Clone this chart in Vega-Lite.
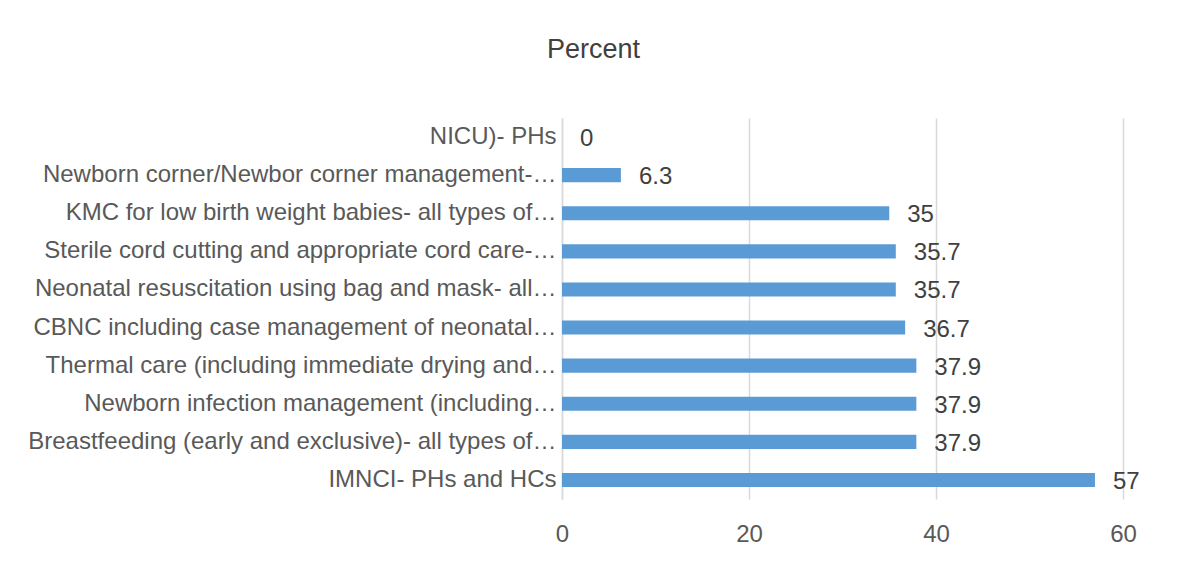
{
  "$schema": "https://vega.github.io/schema/vega-lite/v6.json",
  "width": 561,
  "height": 381,
  "autosize": {"type": "none"},
  "padding": {"left": 562, "top": 118, "right": 58, "bottom": 82},
  "background": "white",
  "config": {
    "view": {"stroke": null},
    "font": "Liberation Sans"
  },
  "title": {
    "text": "Percent",
    "fontSize": 27,
    "fontWeight": "normal",
    "color": "#404040",
    "anchor": "middle",
    "dx": -249,
    "offset": 54
  },
  "data": {
    "values": [
      {"item": "NICU)- PHs", "percent": 0},
      {"item": "Newborn corner/Newbor corner management-…", "percent": 6.3},
      {"item": "KMC for low birth weight babies- all types of…", "percent": 35},
      {"item": "Sterile cord cutting and appropriate cord care-…", "percent": 35.7},
      {"item": "Neonatal resuscitation using bag and mask- all…", "percent": 35.7},
      {"item": "CBNC including case management of neonatal…", "percent": 36.7},
      {"item": "Thermal care (including immediate drying and…", "percent": 37.9},
      {"item": "Newborn infection management (including…", "percent": 37.9},
      {"item": "Breastfeeding (early and exclusive)- all types of…", "percent": 37.9},
      {"item": "IMNCI- PHs and HCs", "percent": 57}
    ]
  },
  "encoding": {
    "y": {
      "field": "item",
      "type": "nominal",
      "sort": null,
      "scale": {"paddingInner": 0.63, "paddingOuter": 0.315},
      "axis": {
        "title": null,
        "ticks": false,
        "domain": true,
        "domainColor": "#d9d9d9",
        "domainWidth": 1.5,
        "labelFontSize": 24,
        "labelColor": "#595959",
        "labelPadding": 6,
        "labelLimit": 600
      }
    },
    "x": {
      "field": "percent",
      "type": "quantitative",
      "scale": {"domain": [0, 60]},
      "axis": {
        "title": null,
        "values": [0, 20, 40, 60],
        "grid": true,
        "gridColor": "#d9d9d9",
        "gridWidth": 1.5,
        "domain": false,
        "ticks": false,
        "labelFontSize": 24,
        "labelColor": "#595959",
        "labelPadding": 23,
        "labelFlush": false
      }
    }
  },
  "layer": [
    {
      "mark": {"type": "bar", "color": "#5b9bd5"}
    },
    {
      "mark": {"type": "text", "align": "left", "baseline": "middle", "dx": 18, "dy": 2, "fontSize": 24, "color": "#404040"},
      "encoding": {"text": {"field": "percent", "type": "quantitative"}}
    }
  ]
}
